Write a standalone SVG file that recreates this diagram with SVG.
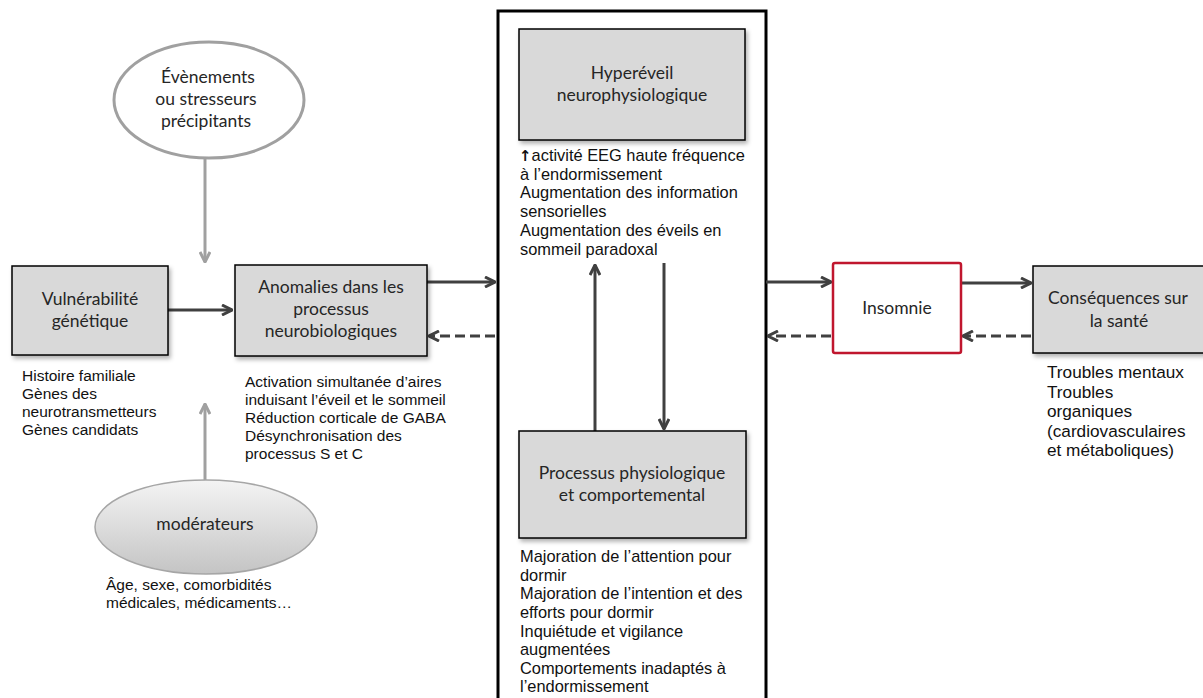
<svg xmlns="http://www.w3.org/2000/svg" width="1203" height="698" viewBox="0 0 1203 698">
<defs>
<style>
.box{fill:#d9d9d9;stroke:#000;stroke-width:1.5;filter:url(#sh)}
.lbl{font-family:Lato,"Liberation Sans",sans-serif;font-size:17.5px;fill:#262626;text-anchor:middle}
.note{font-family:"Liberation Sans",Arial,sans-serif;font-size:15.5px;fill:#111}
.noteC{font-family:"Liberation Sans",Arial,sans-serif;font-size:16.4px;fill:#111}
.noteR{font-family:"Liberation Sans",Arial,sans-serif;font-size:17.2px;fill:#111}
.dark{stroke:#404040;stroke-width:3;fill:none}
.dash{stroke-dasharray:10 5}
.gray{stroke:#a0a0a0;stroke-width:3;fill:none}
</style>
<filter id="sh" x="-10%" y="-10%" width="125%" height="130%">
<feDropShadow dx="2" dy="3" stdDeviation="2" flood-color="#000" flood-opacity="0.3"/>
</filter>
<linearGradient id="gm" x1="0" y1="0" x2="0" y2="1">
<stop offset="0" stop-color="#f4f4f4"/>
<stop offset="1" stop-color="#c4c4c4"/>
</linearGradient>
<marker id="ad" viewBox="0 0 12 12" markerWidth="12" markerHeight="12" refX="11" refY="6" orient="auto" markerUnits="userSpaceOnUse">
<path d="M1,1 L11,6 L1,11" fill="none" stroke="#404040" stroke-width="3" stroke-dasharray="none"/>
</marker>
<marker id="ag" viewBox="0 0 12 12" markerWidth="12" markerHeight="12" refX="11" refY="6" orient="auto" markerUnits="userSpaceOnUse">
<path d="M1,1 L11,6 L1,11" fill="none" stroke="#a0a0a0" stroke-width="3"/>
</marker>
</defs>
<rect width="1203" height="698" fill="#fff"/>

<g id="frame">
<rect x="498" y="11" width="268" height="700" fill="none" stroke="#000" stroke-width="3"/>
</g>

<g id="connectors">
<line class="gray" x1="205" y1="158" x2="205" y2="262" marker-end="url(#ag)"/>
<line class="gray" x1="205" y1="480" x2="205" y2="404" marker-end="url(#ag)"/>
<line class="dark" x1="168" y1="310" x2="232" y2="310" marker-end="url(#ad)"/>
<line class="dark" x1="427" y1="282" x2="495" y2="282" marker-end="url(#ad)"/>
<line class="dark dash" x1="495" y1="336" x2="429" y2="336" marker-end="url(#ad)"/>
<line class="dark" x1="766" y1="282" x2="831" y2="282" marker-end="url(#ad)"/>
<line class="dark dash" x1="831" y1="336" x2="768" y2="336" marker-end="url(#ad)"/>
<line class="dark" x1="961" y1="283" x2="1031" y2="283" marker-end="url(#ad)"/>
<line class="dark dash" x1="1031" y1="336" x2="963" y2="336" marker-end="url(#ad)"/>
<line class="dark" x1="595" y1="431" x2="595" y2="265" marker-end="url(#ad)"/>
<line class="dark" x1="664" y1="263" x2="664" y2="429" marker-end="url(#ad)"/>
</g>

<g id="evenements">
<ellipse cx="209" cy="100" rx="95" ry="58" fill="#fff" stroke="#a0a0a0" stroke-width="3"/>
<text class="lbl" x="208"><tspan x="208" y="83">Évènements</tspan><tspan x="206" y="105">ou stresseurs</tspan><tspan x="206" y="127">précipitants</tspan></text>
</g>

<g id="vulnerabilite">
<rect class="box" x="12" y="266" width="156" height="89"/>
<text class="lbl"><tspan x="90" y="305">Vulnérabilité</tspan><tspan x="90" y="327">génétique</tspan></text>
<text class="note"><tspan x="22" y="381">Histoire familiale</tspan><tspan x="22" y="399">Gènes des</tspan><tspan x="22" y="417">neurotransmetteurs</tspan><tspan x="22" y="435">Gènes candidats</tspan></text>
</g>

<g id="anomalies">
<rect class="box" x="235" y="265" width="192" height="91"/>
<text class="lbl"><tspan x="331" y="293">Anomalies dans les</tspan><tspan x="331" y="315">processus</tspan><tspan x="331" y="337">neurobiologiques</tspan></text>
<text class="note"><tspan x="245" y="387">Activation simultanée d’aires</tspan><tspan x="245" y="405">induisant l’éveil et le sommeil</tspan><tspan x="245" y="423">Réduction corticale de GABA</tspan><tspan x="245" y="441">Désynchronisation des</tspan><tspan x="245" y="459">processus S et C</tspan></text>
</g>

<g id="moderateurs">
<ellipse cx="206" cy="527" rx="111" ry="47" fill="url(#gm)" stroke="#a6a6a6" stroke-width="1.5"/>
<text class="lbl" x="205" y="530">modérateurs</text>
<text class="note"><tspan x="106" y="590">Âge, sexe, comorbidités</tspan><tspan x="106" y="608">médicales, médicaments…</tspan></text>
</g>

<g id="hypereveil">
<rect class="box" x="519" y="29" width="226" height="111"/>
<text class="lbl"><tspan x="632" y="79">Hyperéveil</tspan><tspan x="632" y="101">neurophysiologique</tspan></text>
<text class="noteC"><tspan x="519" y="161"><tspan font-family="DejaVu Sans" font-weight="bold" font-size="15px">↑</tspan>activité EEG haute fréquence</tspan><tspan x="520" y="180">à l’endormissement</tspan><tspan x="520" y="198">Augmentation des information</tspan><tspan x="520" y="217">sensorielles</tspan><tspan x="520" y="236">Augmentation des éveils en</tspan><tspan x="520" y="255">sommeil paradoxal</tspan></text>
</g>

<g id="processus">
<rect class="box" x="519" y="431" width="227" height="107"/>
<text class="lbl"><tspan x="632" y="479">Processus physiologique</tspan><tspan x="632" y="501">et comportemental</tspan></text>
<text class="noteC"><tspan x="520" y="562">Majoration de l’attention pour</tspan><tspan x="520" y="581">dormir</tspan><tspan x="520" y="599">Majoration de l’intention et des</tspan><tspan x="520" y="618">efforts pour dormir</tspan><tspan x="520" y="637">Inquiétude et vigilance</tspan><tspan x="520" y="655">augmentées</tspan><tspan x="520" y="674">Comportements inadaptés à</tspan><tspan x="520" y="692">l’endormissement</tspan></text>
</g>

<g id="insomnie">
<rect x="833" y="263" width="128" height="90" rx="2" fill="#fff" stroke="#c0162e" stroke-width="2.5"/>
<text class="lbl" x="897" y="314">Insomnie</text>
</g>

<g id="consequences">
<rect class="box" x="1033" y="266" width="174" height="87"/>
<text class="lbl"><tspan x="1118" y="304">Conséquences sur</tspan><tspan x="1119" y="327">la santé</tspan></text>
<text class="noteR"><tspan x="1047" y="378">Troubles mentaux</tspan><tspan x="1047" y="398">Troubles</tspan><tspan x="1047" y="417">organiques</tspan><tspan x="1047" y="437">(cardiovasculaires</tspan><tspan x="1047" y="456">et métaboliques)</tspan></text>
</g>
</svg>
